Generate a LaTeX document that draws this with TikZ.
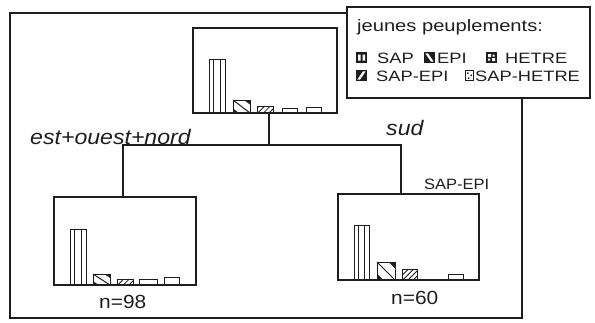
\documentclass[tikz,border=0pt]{standalone}
\usepackage{fontspec}
\setmainfont{Liberation Sans}
\newfontfamily\figfont[FakeStretch=1.1]{Liberation Sans}
\newfontfamily\legfont[FakeStretch=1.22]{Liberation Sans}
\usetikzlibrary{positioning}
\definecolor{Ink}{HTML}{1E1E1E}

\begin{document}
\begin{tikzpicture}[x=1pt,y=-1pt,line join=miter]
  \tikzset{frame/.style={draw=Ink,line width=1.2pt},
           panel/.style={draw=Ink,line width=1.3pt,inner sep=0pt},
           barline/.style={draw=Ink,line width=1pt},
           branch/.style={draw=Ink,line width=1.2pt},
           legbox/.style={draw=Ink,fill=white,line width=1.8pt},
           legtext/.style={anchor=base west,inner sep=0pt,text=Ink,font=\legfont\fontsize{15}{17}\selectfont},
           cut/.style={anchor=base west,inner sep=0pt,text=Ink,font=\figfont\fontsize{21}{24}\selectfont\itshape},
           count/.style={anchor=base west,inner sep=0pt,text=Ink,font=\figfont\fontsize{19}{22}\selectfont}}
  \useasboundingbox (0,0) rectangle (595,322);
  \draw[frame] (10,13) rectangle (522,318);
  % histogram panels
  \node[panel,minimum width=144pt,minimum height=85pt] (top) at (265,70.5) {};
  \node[panel,minimum width=142pt,minimum height=88pt] (left) at (125,241) {};
  \node[panel,minimum width=141pt,minimum height=86pt] (right) at (408.5,237) {};
  % split
  \coordinate (fork) at (269,145);
  \coordinate (jl) at (123,145);
  \coordinate (jr) at (401,145);
  \draw[branch] (top.south -| fork) -- (fork);
  \draw[branch] (left.north -| jl) -- (jl) -- (jr) -- (right.north -| jr);
  \node[cut] (east) at (30,144) {est+ouest+nord};
  \node[cut] (south) at (386,135) {sud};
  \node[count,font=\figfont\fontsize{15}{18}\selectfont] (maj) at (424,189) {SAP-EPI};
  \node[count] (nl) at (99,308) {n=98};
  \node[count] (nr) at (391,304) {n=60};
  % SAP bars
  \foreach \xa/\xb/\yt/\yb in {209/225/59/113, 70/86/229/285, 354/369/225/280}{
    \draw[barline] (\xa,\yb) rectangle (\xb,\yt);
    \draw[barline] ({\xa+0.3*(\xb-\xa)},\yb) -- ({\xa+0.3*(\xb-\xa)},\yt)
                   ({\xa+0.7*(\xb-\xa)},\yb) -- ({\xa+0.7*(\xb-\xa)},\yt);
  }
  % EPI bars
  \foreach \xa/\xb/\yt/\yb in {233/250/100/113, 93/110/274/285, 377/395/262/280}{
    \fill[Ink] ({\xb-0.35*(\xb-\xa)},\yt) -- (\xb,\yt) -- (\xb,{\yt+0.35*(\yb-\yt)}) -- cycle;
    \fill[Ink] (\xa,{\yb-0.35*(\yb-\yt)}) -- (\xa,\yb) -- ({\xa+0.35*(\xb-\xa)},\yb) -- cycle;
    \draw[barline] (\xa,\yb) rectangle (\xb,\yt);
    \draw[barline] (\xa,\yt) -- (\xb,\yb);
  }
  % SAP-EPI bars
  \foreach \xa/\xb/\yt/\yb in {257/273/106/113, 117/133/279/285, 402/417/269/280}{
    \begin{scope}
      \clip (\xa,\yb) rectangle (\xb,\yt);
      \foreach \k in {-0.3,0.05,0.4,0.75}
        \draw[barline,line width=0.8pt] ({\xa+\k*(\xb-\xa)},\yb) -- ({\xa+\k*(\xb-\xa)+(\yb-\yt)},\yt);
    \end{scope}
    \draw[barline] (\xa,\yb) rectangle (\xb,\yt);
  }
  % HETRE and SAP-HETRE bars
  \foreach \xa/\xb/\yt/\yb in {282/297/108/113, 139/157/279/285, 306/321/107/113, 164/179/277/285, 448/463/274/280}{
    \draw[barline] (\xa,\yb) rectangle (\xb,\yt);
  }
  % legend
  \draw[legbox] (347,7) rectangle (590,98);
  \node[legtext,font=\legfont\fontsize{16.5}{19}\selectfont] (title) at (357,31) {jeunes peuplements:};
  \fill[Ink] (356,52) rectangle (367,63);
  \fill[white] (358,54.5) rectangle (360.5,60.5) (362.5,54.5) rectangle (365,60.5);
  \node[legtext] (lsap) at (377,63) {SAP};
  \fill[Ink] (424,52) rectangle (435,63);
  \fill[white] (425.3,53.3) -- (428,53.3) -- (433.7,61.7) -- (431,61.7) -- cycle;
  \node[legtext] (lepi) at (437,63) {EPI};
  \fill[Ink] (486,52) rectangle (497,63);
  \fill[white] (488,54) rectangle (491,57) (492,58) rectangle (495,61) (488,58.5) rectangle (490,60.5) (492.5,54.5) rectangle (494.5,56.5);
  \node[legtext] (lhet) at (505,63) {HETRE};
  \fill[Ink] (356,70) rectangle (367,81);
  \fill[white] (357.3,79.7) -- (360,79.7) -- (365.7,71.3) -- (363,71.3) -- cycle;
  \node[legtext] (lse) at (376,81) {SAP-EPI};
  \draw[Ink,line width=1.5pt,fill=white] (465.7,70.7) rectangle (473.3,80.3);
  \fill[Ink] (467.8,73.2) circle (1) (471.2,75.3) circle (1) (468.6,78.2) circle (1);
  \node[legtext] (lsh) at (475,81) {SAP-HETRE};
\end{tikzpicture}
\end{document}
